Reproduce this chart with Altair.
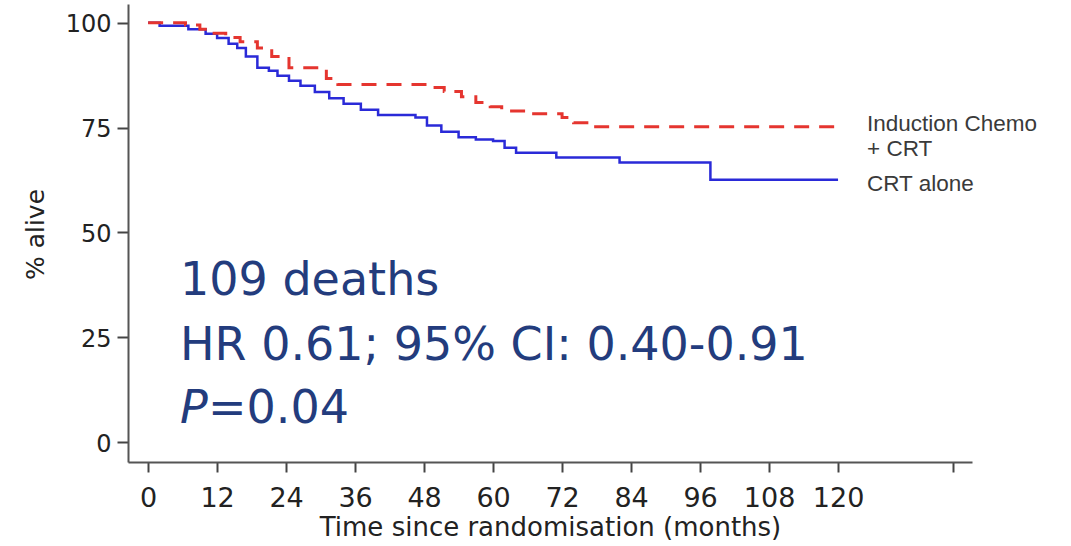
import altair as alt
import pandas as pd

# Kaplan-Meier step data (months, % alive)
ic_months = [0, 6.5, 9, 11, 13.5, 16, 19, 21.5, 24.5, 31, 33, 48.5, 51.5, 54.5, 57, 59.5, 61.5, 66, 72, 74, 77, 121]
ic_values = [100, 99.5, 98.5, 97.5, 96.5, 95.5, 94, 92, 89.3, 86.7, 85.3, 84.6, 83.6, 82.4, 81.0, 80.0, 79.0, 78.3, 77.4, 76.2, 75.2, 75.2]

crt_months = [0, 2, 7, 10, 12, 14, 15.5, 17, 19, 21, 22.5, 24.5, 26.5, 29, 31.5, 34, 37, 40, 46.5, 48.5, 51,
              54, 57, 60, 62, 64, 71, 82, 97.8, 120]
crt_values = [100, 99.3, 98.5, 97.4, 96.4, 95, 94, 92, 89.3, 88.6, 87.4, 86.2, 85, 83.5, 82, 80.7, 79.3, 78, 77.4,
              75.5, 74, 72.7, 72.2, 71.8, 70.2, 69, 67.9, 66.7, 62.6, 62.6]

x_ticks = [0, 12, 24, 36, 48, 60, 72, 84, 96, 108, 120, 140]
y_ticks = [0, 25, 50, 75, 100]

legend_lines = ["Induction Chemo", "+ CRT", "CRT alone"]
stats_lines = ["109 deaths", "HR 0.61; 95% CI: 0.40-0.91"]
p_letter = "P"
p_rest = "=0.04"

x_title = "Time since randomisation (months)"
y_title = "% alive"

df_ic = pd.DataFrame({"month": ic_months, "alive": ic_values})
df_crt = pd.DataFrame({"month": crt_months, "alive": crt_values})

x_scale = alt.Scale(domain=[-3.5, 143.3], nice=False, zero=False)
y_scale = alt.Scale(domain=[-4.75, 104.5], nice=False, zero=False)

x_axis = alt.Axis(
    values=x_ticks, labelExpr="datum.value > 120 ? '' : datum.label",
    title=x_title, grid=False,
    domainColor="#555555", domainWidth=2, tickColor="#444444", tickWidth=2, tickSize=10,
    labelFont="DejaVu Sans", labelFontSize=27, labelColor="#222222", labelPadding=13,
    labelFlush=False, labelOverlap=False,
    titleFont="DejaVu Sans", titleFontSize=26, titleFontWeight="normal", titleColor="#222222",
    titleY=73, titleBaseline="alphabetic",
)
y_axis = alt.Axis(
    values=y_ticks, title=y_title, grid=False,
    domainColor="#555555", domainWidth=2, tickColor="#444444", tickWidth=2, tickSize=11,
    labelFont="DejaVu Sans", labelFontSize=24, labelColor="#222222", labelPadding=6, labelOffset=2,
    labelFlush=False, labelOverlap=False,
    titleFont="DejaVu Sans", titleFontSize=25, titleFontWeight="normal", titleColor="#222222",
    titleX=-85, titleY=230, titleAngle=270, titleBaseline="alphabetic", titleAlign="center",
)

crt_line = alt.Chart(df_crt).mark_line(
    interpolate="step-after", color="#2a2ad8", strokeWidth=2.5
).encode(
    x=alt.X("month:Q", scale=x_scale, axis=x_axis),
    y=alt.Y("alive:Q", scale=y_scale, axis=y_axis),
)

ic_line = alt.Chart(df_ic).mark_line(
    interpolate="step-after", color="#e5352f", strokeWidth=3, strokeDash=[15, 10]
).encode(
    x=alt.X("month:Q", scale=x_scale, axis=x_axis),
    y=alt.Y("alive:Q", scale=y_scale, axis=y_axis),
)

layers = [crt_line, ic_line]

# legend labels at the right ends of the curves
legend_y = [126.5, 152, 187]
for txt, yy in zip(legend_lines, legend_y):
    layers.append(
        alt.Chart(pd.DataFrame({"t": [txt]})).mark_text(
            align="left", baseline="alphabetic", font="Liberation Sans", fontSize=22.5, color="#3a3a3a"
        ).encode(x=alt.value(739), y=alt.value(yy), text="t:N")
    )

# statistics annotation
stats_y = [291, 356]
for txt, yy in zip(stats_lines, stats_y):
    layers.append(
        alt.Chart(pd.DataFrame({"t": [txt]})).mark_text(
            align="left", baseline="alphabetic", font="DejaVu Sans", fontSize=46, color="#233c7d"
        ).encode(x=alt.value(52), y=alt.value(yy), text="t:N")
    )
layers.append(
    alt.Chart(pd.DataFrame({"t": [p_letter]})).mark_text(
        align="left", baseline="alphabetic", font="DejaVu Sans", fontSize=46, fontStyle="italic", color="#233c7d"
    ).encode(x=alt.value(52), y=alt.value(419), text="t:N")
)
layers.append(
    alt.Chart(pd.DataFrame({"t": [p_rest]})).mark_text(
        align="left", baseline="alphabetic", font="DejaVu Sans", fontSize=46, color="#233c7d"
    ).encode(x=alt.value(80), y=alt.value(419), text="t:N")
)

chart = alt.layer(*layers).properties(
    width=844, height=458,
    autosize=alt.AutoSizeParams(type="none"),
    padding={"left": 128, "top": 4, "right": 99, "bottom": 84},
    background="white",
).configure_view(stroke=None)

chart.save("out.html", embed_options={"renderer": "svg", "actions": False})
